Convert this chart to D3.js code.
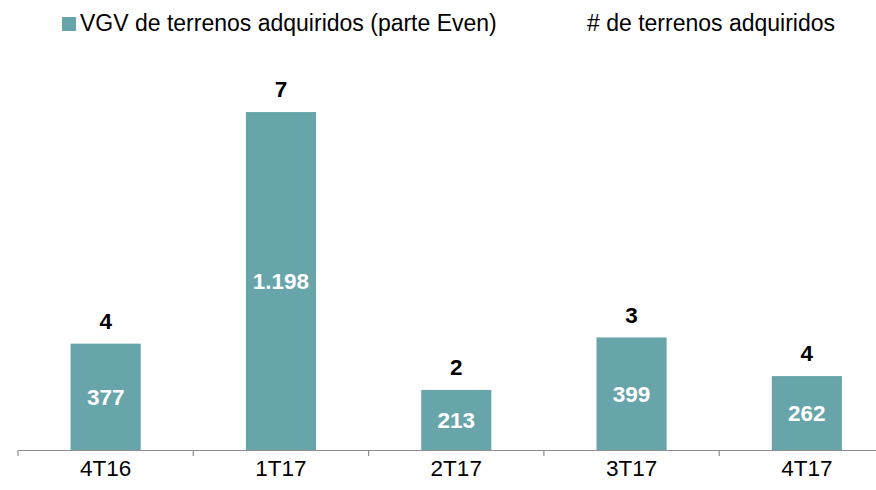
<!DOCTYPE html>
<html>
<head>
<meta charset="utf-8">
<script src="https://cdn.jsdelivr.net/npm/d3@7"></script>
<style>
  body { margin: 0; background: #fff; }
  text { font-family: "Liberation Sans", Arial, sans-serif; }
</style>
</head>
<body>
<div id="chart"></div>
<script>
// Données
const categories = ["4T16", "1T17", "2T17", "3T17", "4T17"];
const vgv = [377, 1198, 213, 399, 262];
const vgvLabels = ["377", "1.198", "213", "399", "262"];
const terrenos = [4, 7, 2, 3, 4];
const legendLabels = ["VGV de terrenos adquiridos (parte Even)", "# de terrenos adquiridos"];

const W = 876, H = 490;
const barColor = "#67a5ab";
const fontSize = "22.5px";

const svg = d3.select("#chart").append("svg")
  .attr("width", W).attr("height", H);

// Échelles
const x = d3.scaleBand()
  .domain(categories)
  .range([18, 18 + 175.3 * categories.length])
  .paddingInner(0.6)
  .paddingOuter(0.3);

const y = d3.scaleLinear()
  .domain([0, 1400])
  .range([450, 450 - 1400 * 0.2821]);

// Axe X
const step = x.step();
const xAxis = svg.append("g")
  .attr("transform", "translate(0,450)")
  .call(d3.axisBottom(x).tickSize(0).tickPadding(10));
xAxis.select(".domain").attr("stroke", "#8c8c8c").attr("stroke-width", 1.2);
xAxis.selectAll(".tick text")
  .attr("font-size", fontSize)
  .attr("font-family", "Liberation Sans, Arial, sans-serif")
  .attr("fill", "#000");

// Ticks entre catégories
const bounds = d3.range(categories.length + 1).map(i => 18 + i * step);
svg.selectAll(".sep")
  .data(bounds)
  .enter().append("line")
  .attr("x1", d => d).attr("x2", d => d)
  .attr("y1", 450).attr("y2", 456)
  .attr("stroke", "#8c8c8c").attr("stroke-width", 1.2);

// Barres
const data = categories.map((c, i) => ({ c, v: vgv[i], lab: vgvLabels[i], n: terrenos[i] }));

svg.selectAll(".bar")
  .data(data)
  .enter().append("rect")
  .attr("x", d => x(d.c))
  .attr("width", x.bandwidth())
  .attr("y", d => y(d.v))
  .attr("height", d => y(0) - y(d.v))
  .attr("fill", barColor);

// Valeurs dans les barres
svg.selectAll(".val")
  .data(data)
  .enter().append("text")
  .attr("x", d => x(d.c) + x.bandwidth() / 2)
  .attr("y", d => (y(d.v) + y(0)) / 2)
  .attr("dy", "0.36em")
  .attr("text-anchor", "middle")
  .attr("font-size", fontSize)
  .attr("font-weight", "700")
  .attr("fill", "#fff")
  .text(d => d.lab);

// Nombre de terrains
svg.selectAll(".cnt")
  .data(data)
  .enter().append("text")
  .attr("x", d => x(d.c) + x.bandwidth() / 2)
  .attr("y", d => y(d.v) - 23)
  .attr("dy", "0.36em")
  .attr("text-anchor", "middle")
  .attr("font-size", fontSize)
  .attr("font-weight", "700")
  .attr("fill", "#000")
  .text(d => d.n);

// Légende
svg.append("rect")
  .attr("x", 62).attr("y", 17)
  .attr("width", 14).attr("height", 14)
  .attr("fill", barColor);
svg.append("text")
  .attr("x", 80).attr("y", 31)
  .attr("font-size", "23px")
  .attr("fill", "#000")
  .text(legendLabels[0]);
svg.append("text")
  .attr("x", 587).attr("y", 31)
  .attr("font-size", "23px")
  .attr("fill", "#000")
  .text(legendLabels[1]);
</script>
</body>
</html>
